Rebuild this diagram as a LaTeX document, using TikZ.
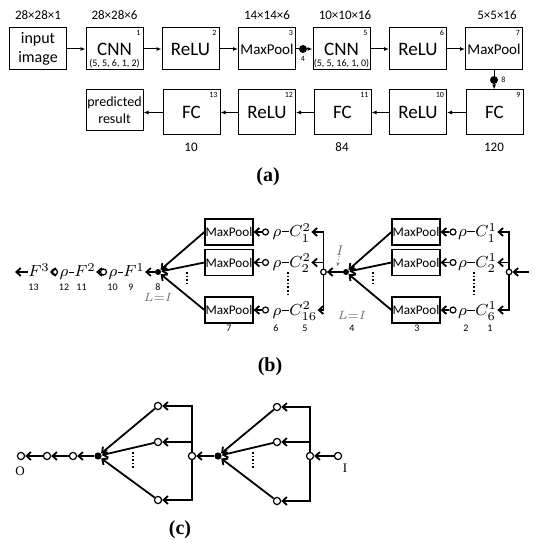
\documentclass[tikz,border=0pt]{standalone}
\usepackage{fontspec}
\setmainfont{Carlito}
\newfontfamily\capfont{Liberation Serif}
\usetikzlibrary{arrows.meta, positioning}

\begin{document}
\begin{tikzpicture}[x=0.5pt, y=-0.5pt,
    blk/.style={draw, line width=0.5pt, minimum width=28.5pt, minimum height=21pt,
                inner sep=0pt, font=\fontsize{9.5}{10}\selectfont},
    corner/.style={anchor=north east, inner sep=1.3pt, font=\fontsize{4}{4}\selectfont},
    params/.style={anchor=south, inner sep=1.2pt, font=\fontsize{5}{5}\selectfont},
    dim/.style={inner sep=0pt, font=\fontsize{6.5}{7}\selectfont},
    arra/.style={-{Latex[length=2.5pt, width=2pt]}, line width=0.5pt},
    pool/.style={draw, line width=0.6pt, minimum width=24pt, minimum height=13pt,
                 inner sep=0pt, font=\fontsize{6.6}{7}\selectfont},
    sym/.style={inner sep=0pt, font=\fontsize{8}{9}\selectfont},
    num/.style={inner sep=0pt, font=\fontsize{5}{5}\selectfont},
    ring/.style={circle, draw, line width=0.6pt, fill=white, inner sep=0pt, minimum size=#1},
    ring/.default=3pt,
    blob/.style={circle, fill, inner sep=0pt, minimum size=#1},
    blob/.default=3pt,
    arrb/.style={-{Straight Barb[length=2.2pt, width=4pt]}, line width=0.9pt},
    note/.style={inner sep=0pt, text=black!55, font=\fontsize{6}{6}\selectfont},
    panel/.style={font=\capfont\bfseries\fontsize{10}{12}\selectfont}
]
    \useasboundingbox (0,0) rectangle (540,550);

    % (a) layer pipeline
    \node[blk, align=center, font=\fontsize{8}{9.5}\selectfont] (input) at (38,49) {input\\image};
    \node[blk, label={[corner]north east:1}, label={[params]south:{(5, 5, 6, 1, 2)}}] (cnn1) at (114.5,49) {CNN};
    \node[blk, label={[corner]north east:2}] (relu2) at (190.5,49) {ReLU};
    \node[blk, font=\fontsize{7.5}{8}\selectfont, label={[corner]north east:3}] (mp3) at (267,49) {MaxPool};
    \node[blob=4pt, label={[corner, anchor=north]below:4}] (dot4) at (303,49) {};
    \node[blk, label={[corner]north east:5}, label={[params]south:{(5, 5, 16, 1, 0)}}] (cnn5) at (341.5,49) {CNN};
    \node[blk, label={[corner]north east:6}] (relu6) at (418,49) {ReLU};
    \node[blk, font=\fontsize{7.5}{8}\selectfont, label={[corner]north east:7}] (mp7) at (494,49) {MaxPool};
    \node[blob=4pt, label={[corner, anchor=west]right:8}] (dot8) at (494,80) {};

    \node[blk, minimum height=22.5pt, label={[corner]north east:9}] (fc9) at (494.5,112.5) {FC};
    \node[blk, minimum height=22.5pt, label={[corner]north east:10}] (relu10) at (418,112.5) {ReLU};
    \node[blk, minimum height=22.5pt, label={[corner]north east:11}] (fc11) at (342.5,112.5) {FC};
    \node[blk, minimum height=22.5pt, label={[corner]north east:12}] (relu12) at (267,112.5) {ReLU};
    \node[blk, minimum height=22.5pt, label={[corner]north east:13}] (fc13) at (191.5,112.5) {FC};
    \node[blk, minimum height=20.5pt, align=center, font=\fontsize{7}{8.5}\selectfont] (pred) at (114.5,110.5) {predicted\\result};

    \node[dim] (d1) at (38,15) {28×28×1};
    \node[dim] (d6) at (114.5,15) {28×28×6};
    \node[dim] (d14) at (267,15) {14×14×6};
    \node[dim] (d10) at (345,15) {10×10×16};
    \node[dim] (d5) at (497,15) {5×5×16};
    \node[dim] (n10) at (191,147) {10};
    \node[dim] (n84) at (342,147) {84};
    \node[dim] (n120) at (494,147) {120};

    \draw[arra] (input) -- (cnn1);
    \draw[arra] (cnn1) -- (relu2);
    \draw[arra] (relu2) -- (mp3);
    \draw[line width=0.5pt] (mp3) -- (dot4);
    \draw[arra] (dot4) -- (cnn5);
    \draw[arra] (cnn5) -- (relu6);
    \draw[arra] (relu6) -- (mp7);
    \draw[line width=0.5pt] (mp7) -- (dot8);
    \draw[arra] (dot8) -- (fc9);
    \draw[arra] (fc9) -- (relu10);
    \draw[arra] (relu10) -- (fc11);
    \draw[arra] (fc11) -- (relu12);
    \draw[arra] (relu12) -- (fc13);
    \draw[arra] (fc13) -- (fc13.west -| pred.east);

    \node[panel] (capa) at (268,177) {(a)};

    % (b) composition of maps
    \coordinate (out) at (15,272);
    \node[sym, anchor=base] (f3) at (39,277) {$F^3$};
    \node[ring] (o12) at (54.5,272) {};
    \node[sym, anchor=base] (r12) at (64,277) {$\rho$};
    \node[sym, anchor=base] (f2) at (85,277) {$F^2$};
    \node[ring] (o10) at (103.5,272) {};
    \node[sym, anchor=base] (r10) at (113,277) {$\rho$};
    \node[sym, anchor=base] (f1) at (134,277) {$F^1$};
    \node[blob] (j8) at (158,272) {};

    \draw[arrb] (f3.west |- out) -- (out);
    \draw[arrb] (o12) -- (o12 -| f3.east);
    \draw[line width=0.5pt] (r12.east |- o12) -- (f2.west |- o12);
    \draw[arrb] (o10) -- (o10 -| f2.east);
    \draw[line width=0.5pt] (r10.east |- o10) -- (f1.west |- o10);
    \draw[arrb] (j8) -- (j8 -| f1.east);

    % second conv block
    \node[pool] (p7a) at (229,232) {MaxPool};
    \node[pool] (p7b) at (229,262.5) {MaxPool};
    \node[pool] (p7c) at (229,310) {MaxPool};
    \node[ring] (q6a) at (265.5,232) {};
    \node[ring] (q6b) at (265.5,262.5) {};
    \node[ring] (q6c) at (265.5,310) {};
    \node[sym, anchor=base] (r6a) at (277,237) {$\rho$};
    \node[sym, anchor=base] (r6b) at (277,267.5) {$\rho$};
    \node[sym, anchor=base] (r6c) at (277,315) {$\rho$};
    \node[sym, anchor=base west] (c2a) at (289,237) {$C_1^2$};
    \node[sym, anchor=base west] (c2b) at (289,267.5) {$C_2^2$};
    \node[sym, anchor=base west] (c2c) at (289,315) {$C_{16}^2$};
    \node[ring=2.8pt] (s5) at (323.5,272) {};
    \node[blob] (j4) at (346,272) {};

    \draw[arrb] (q6a) -- (p7a);
    \draw[arrb] (q6b) -- (p7b);
    \draw[arrb] (q6c) -- (p7c);
    \draw[line width=0.5pt] (r6a.east |- p7a) -- (c2a.west |- p7a);
    \draw[line width=0.5pt] (r6b.east |- p7b) -- (c2b.west |- p7b);
    \draw[line width=0.5pt] (r6c.east |- p7c) -- (c2c.west |- p7c);
    \draw[arrb] (s5) |- (c2a.east |- p7a);
    \draw[arrb] (s5.center |- p7b) -- (c2b.east |- p7b);
    \draw[arrb] (s5) |- (c2c.east |- p7c);
    \draw[arrb] (p7a.west) -- (j8);
    \draw[arrb] (p7b.west) -- (j8);
    \draw[arrb] (p7c.west) -- (j8);
    \draw[arrb] (j4) -- (s5);

    % first conv block
    \node[pool] (p3a) at (416,232) {MaxPool};
    \node[pool] (p3b) at (416,262.5) {MaxPool};
    \node[pool] (p3c) at (416,310) {MaxPool};
    \node[ring] (q2a) at (453,232) {};
    \node[ring] (q2b) at (453,262.5) {};
    \node[ring] (q2c) at (453,310) {};
    \node[sym, anchor=base] (r2a) at (462.5,237) {$\rho$};
    \node[sym, anchor=base] (r2b) at (462.5,267.5) {$\rho$};
    \node[sym, anchor=base] (r2c) at (462.5,315) {$\rho$};
    \node[sym, anchor=base west] (c1a) at (475,237) {$C_1^1$};
    \node[sym, anchor=base west] (c1b) at (475,267.5) {$C_2^1$};
    \node[sym, anchor=base west] (c1c) at (475,315) {$C_6^1$};
    \node[ring=2.8pt] (s1) at (509,272) {};
    \coordinate (in) at (529,272);

    \draw[arrb] (q2a) -- (p3a);
    \draw[arrb] (q2b) -- (p3b);
    \draw[arrb] (q2c) -- (p3c);
    \draw[line width=0.5pt] (r2a.east |- p3a) -- (c1a.west |- p3a);
    \draw[line width=0.5pt] (r2b.east |- p3b) -- (c1b.west |- p3b);
    \draw[line width=0.5pt] (r2c.east |- p3c) -- (c1c.west |- p3c);
    \draw[arrb] (s1) |- (c1a.east |- p3a);
    \draw[arrb] (s1.center |- p3b) -- (c1b.east |- p3b);
    \draw[arrb] (s1) |- (c1c.east |- p3c);
    \draw[arrb] (p3a.west) -- (j4);
    \draw[arrb] (p3b.west) -- (j4);
    \draw[arrb] (p3c.west) -- (j4);
    \draw[arrb] (in) -- (s1);

    \draw[line width=0.8pt, densely dotted] (187,272) -- (187,284);
    \draw[line width=0.8pt, densely dotted] (288,272) -- (288,294);
    \draw[line width=0.8pt, densely dotted] (373,272) -- (373,284);
    \draw[line width=0.8pt, densely dotted] (474,272) -- (474,294);

    \node[note, font=\fontsize{7}{7}\selectfont] (ilab) at (340,251) {$I$};
    \coordinate (ipt) at (337.5,266);
    \draw[black!55, densely dotted, line width=0.4pt, -{Stealth[length=1.8pt, width=1.6pt]}] (ilab) -- (ipt);
    \node[note] (l8) at (158,297) {$L{=}I$};
    \node[note] (l4) at (352,315) {$L{=}I$};

    \node[num] (b13) at (33.5,287) {13};
    \node[num] (b12) at (64,287) {12};
    \node[num] (b11) at (81.5,287) {11};
    \node[num] (b10) at (112.5,287) {10};
    \node[num] (b9) at (131,287) {9};
    \node[num] (b8) at (158,287) {8};
    \node[num] (b7) at (229,328) {7};
    \node[num] (b6) at (276,328) {6};
    \node[num] (b5) at (305,328) {5};
    \node[num] (b4) at (352,328) {4};
    \node[num] (b3) at (417,328) {3};
    \node[num] (b2) at (466,328) {2};
    \node[num] (b1) at (490,328) {1};

    \node[panel] (capb) at (270,367) {(b)};

    % (c) bare graph
    \node[ring=3.6pt] (g1) at (21,456) {};
    \node[ring=3.6pt] (g2) at (47,456) {};
    \node[ring=3.6pt] (g3) at (73,456) {};
    \node[blob=3.6pt] (g4) at (98,456) {};
    \node[ring=3.6pt] (u1) at (158,406) {};
    \node[ring=3.6pt] (u2) at (158,442) {};
    \node[ring=3.6pt] (u3) at (158,500) {};
    \node[ring=3.6pt] (g5) at (192,456) {};
    \node[blob=3.6pt] (g6) at (218,456) {};
    \node[ring=3.6pt] (v1) at (277,407) {};
    \node[ring=3.6pt] (v2) at (277,442) {};
    \node[ring=3.6pt] (v3) at (277,501) {};
    \node[ring=3.6pt] (g7) at (310,456) {};
    \node[ring=3.6pt] (g8) at (338,456) {};
    \node[font=\capfont\fontsize{6.5}{7}\selectfont, inner sep=0pt] (lo) at (20,471) {O};
    \node[font=\capfont\fontsize{6.5}{7}\selectfont, inner sep=0pt] (li) at (345,468) {I};

    \draw[arrb] (g8) -- (g7);
    \draw[arrb] (g7) |- (v1);
    \draw[arrb] (g7.center |- v2) -- (v2);
    \draw[arrb] (g7) |- (v3);
    \draw[arrb] (v1) -- (g6);
    \draw[arrb] (v2) -- (g6);
    \draw[arrb] (v3) -- (g6);
    \draw[arrb] (g6) -- (g5);
    \draw[arrb] (g5) |- (u1);
    \draw[arrb] (g5.center |- u2) -- (u2);
    \draw[arrb] (g5) |- (u3);
    \draw[arrb] (u1) -- (g4);
    \draw[arrb] (u2) -- (g4);
    \draw[arrb] (u3) -- (g4);
    \draw[arrb] (g4) -- (g3);
    \draw[arrb] (g3) -- (g2);
    \draw[arrb] (g2) -- (g1);

    \draw[line width=0.8pt, densely dotted] (133,452) -- (133,470);
    \draw[line width=0.8pt, densely dotted] (253,452) -- (253,469);

    \node[panel] (capc) at (180,530) {(c)};
\end{tikzpicture}
\end{document}
